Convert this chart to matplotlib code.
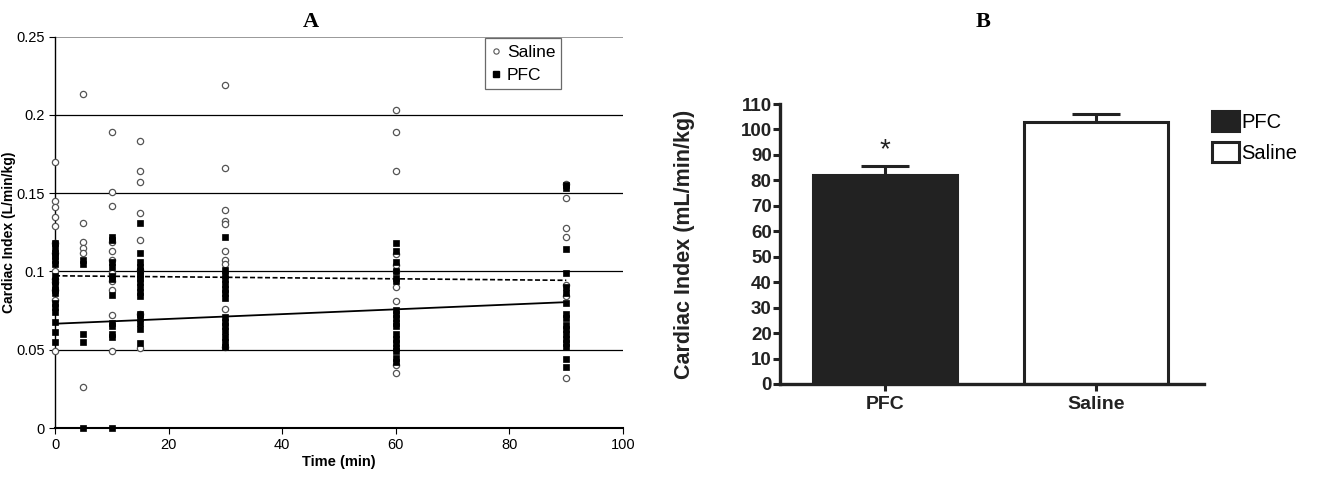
import matplotlib
matplotlib.use("Agg")
import matplotlib.pyplot as plt
from matplotlib.patches import Patch

plt.rcParams['font.family'] = ['Liberation Sans', 'DejaVu Sans']

# Panel A: cardiac index per time point (L/min/kg)
times = [0, 5, 10, 15, 30, 60, 90]
saline_ci = [
    [0.170, 0.145, 0.141, 0.135, 0.129, 0.118, 0.112, 0.100, 0.095, 0.093, 0.088, 0.082, 0.049],
    [0.213, 0.131, 0.119, 0.115, 0.112, 0.026],
    [0.189, 0.151, 0.142, 0.119, 0.113, 0.107, 0.099, 0.094, 0.088, 0.072, 0.049],
    [0.183, 0.164, 0.157, 0.137, 0.120, 0.101, 0.073, 0.051],
    [0.219, 0.166, 0.139, 0.132, 0.130, 0.113, 0.107, 0.105, 0.076, 0.052],
    [0.203, 0.189, 0.164, 0.111, 0.104, 0.100, 0.090, 0.081, 0.040, 0.035],
    [0.156, 0.147, 0.128, 0.122, 0.0915, 0.084, 0.032],
]
pfc_ci = [
    [0.118, 0.115, 0.112, 0.110, 0.107, 0.105, 0.097, 0.094, 0.091, 0.088, 0.086,
     0.080, 0.077, 0.074, 0.068, 0.061, 0.055],
    [0.107, 0.105, 0.060, 0.055, 0.0],
    [0.122, 0.120, 0.106, 0.103, 0.097, 0.095, 0.085, 0.067, 0.065, 0.060, 0.058, 0.0],
    [0.131, 0.112, 0.106, 0.103, 0.100, 0.098, 0.096, 0.093, 0.090, 0.087, 0.084,
     0.073, 0.070, 0.067, 0.063, 0.054],
    [0.122, 0.101, 0.098, 0.095, 0.092, 0.089, 0.086, 0.083, 0.071, 0.068, 0.065,
     0.062, 0.058, 0.055, 0.052],
    [0.118, 0.113, 0.106, 0.100, 0.096, 0.094, 0.0755, 0.073, 0.070, 0.067, 0.065,
     0.060, 0.057, 0.054, 0.051, 0.049, 0.045, 0.042],
    [0.155, 0.153, 0.114, 0.099, 0.090, 0.086, 0.080, 0.073, 0.070, 0.066, 0.063,
     0.060, 0.057, 0.054, 0.052, 0.044, 0.039],
]
# linear trend lines (intercept, slope)
saline_fit = (0.0972, -0.000032)
pfc_fit = (0.0666, 0.000153)
fit_range = [0, 90]

# Panel B: mean cardiac index (mL/min/kg)
groups = ['PFC', 'Saline']
means = [82.1, 102.9]
errors = [3.4, 3.2]

fig = plt.figure(figsize=(13.17, 4.78), dpi=100)

# ---------------- Panel A ----------------
axA = fig.add_axes([0.0418, 0.1046, 0.4313, 0.819])
for t, vals in zip(times, saline_ci):
    axA.plot([t] * len(vals), vals, linestyle='none', marker='o', ms=4.5,
             mfc='white', mec='#555555', mew=0.9, clip_on=False, zorder=3)
for t, vals in zip(times, pfc_ci):
    axA.plot([t] * len(vals), vals, linestyle='none', marker='s', ms=4.6,
             mfc='black', mec='black', mew=0.5, clip_on=False, zorder=4)

axA.plot(fit_range, [saline_fit[0] + saline_fit[1] * x for x in fit_range],
         color='black', lw=1.2, ls=(0, (3, 1.5)), zorder=5)
axA.plot(fit_range, [pfc_fit[0] + pfc_fit[1] * x for x in fit_range],
         color='black', lw=1.3, zorder=5)

axA.set_xlim(0, 100)
axA.set_ylim(0, 0.25)
axA.set_xticks([0, 20, 40, 60, 80, 100])
axA.set_yticks([0, 0.05, 0.1, 0.15, 0.2, 0.25])
axA.set_yticklabels(['0', '0.05', '0.1', '0.15', '0.2', '0.25'])
for yv in [0.05, 0.1, 0.15, 0.2]:
    axA.axhline(yv, color='black', lw=0.9, zorder=1)
axA.axhline(0.25, color='#888888', lw=1.2, zorder=1)
for s in ['top', 'right']:
    axA.spines[s].set_visible(False)
axA.spines['left'].set_linewidth(1.0)
axA.spines['bottom'].set_linewidth(1.5)
axA.tick_params(axis='both', labelsize=10.5, direction='out', length=4, width=0.8)
axA.set_xlabel('Time (min)', fontsize=10.5, fontweight='bold', labelpad=2)
axA.set_ylabel('Cardiac Index (L/min/kg)', fontsize=10, fontweight='bold')
axA.yaxis.set_label_coords(-0.068, 0.5)

hs = axA.plot([], [], linestyle='none', marker='o', ms=3.8, mfc='white',
              mec='#555555', mew=0.8, label='Saline')[0]
hp = axA.plot([], [], linestyle='none', marker='s', ms=4.0, mfc='black',
              mec='black', label='PFC')[0]
legA = axA.legend(handles=[hs, hp], loc='upper left', bbox_to_anchor=(0.757, 0.995),
                  fontsize=12.5, frameon=True, fancybox=False, edgecolor='#444444',
                  handlelength=0.6, handletextpad=0.3, borderpad=0.35,
                  labelspacing=0.45, borderaxespad=0)
legA.get_frame().set_linewidth(0.9)

fig.text(0.236, 0.955, 'A', fontsize=16, fontweight='bold',
         family=['Liberation Serif', 'DejaVu Serif'], ha='center', va='center')

# ---------------- Panel B ----------------
axB = fig.add_axes([0.5923, 0.1967, 0.3219, 0.5857])
xpos = list(range(len(groups)))
axB.bar(xpos, means, width=0.68, color=['#222222', 'white'],
        edgecolor='#222222', linewidth=2.2, zorder=2)
axB.errorbar(xpos, means, yerr=[[0, 0], errors], fmt='none', ecolor='#222222',
             elinewidth=2.2, capsize=17, capthick=2.2, zorder=1)
axB.text(xpos[0], means[0] + errors[0] + 6.5, '*', fontsize=20, ha='center',
         va='center', color='#222222')
axB.set_xlim(-0.498, 1.512)
axB.set_ylim(0, 110)
axB.set_yticks(range(0, 111, 10))
axB.set_xticks(xpos)
axB.set_xticklabels(groups)
for s in ['top', 'right']:
    axB.spines[s].set_visible(False)
for s in ['left', 'bottom']:
    axB.spines[s].set_linewidth(2.4)
    axB.spines[s].set_color('#222222')
axB.tick_params(axis='y', labelsize=13.5, direction='out', length=5, width=2.2,
                pad=1, colors='#222222')
axB.tick_params(axis='x', labelsize=14, direction='out', length=5, width=2.2,
                pad=4, colors='#222222')
for lab in axB.get_yticklabels() + axB.get_xticklabels():
    lab.set_fontweight('bold')
axB.set_ylabel('Cardiac Index (mL/min/kg)', fontsize=15.5, fontweight='bold',
               color='#222222')
axB.yaxis.set_label_coords(-0.20, 0.5)

legB = axB.legend(handles=[Patch(facecolor='#222222', edgecolor='#222222', lw=2.2, label='PFC'),
                           Patch(facecolor='white', edgecolor='#222222', lw=2.2, label='Saline')],
                  loc='upper left', bbox_to_anchor=(1.0, 1.004), fontsize=14.5,
                  frameon=False, handlelength=1.34, handleheight=1.15,
                  handletextpad=0.1, labelspacing=0.5, borderaxespad=0)

fig.text(0.7465, 0.955, 'B', fontsize=16, fontweight='bold',
         family=['Liberation Serif', 'DejaVu Serif'], ha='center', va='center')

fig.savefig('out.png', dpi=100)
